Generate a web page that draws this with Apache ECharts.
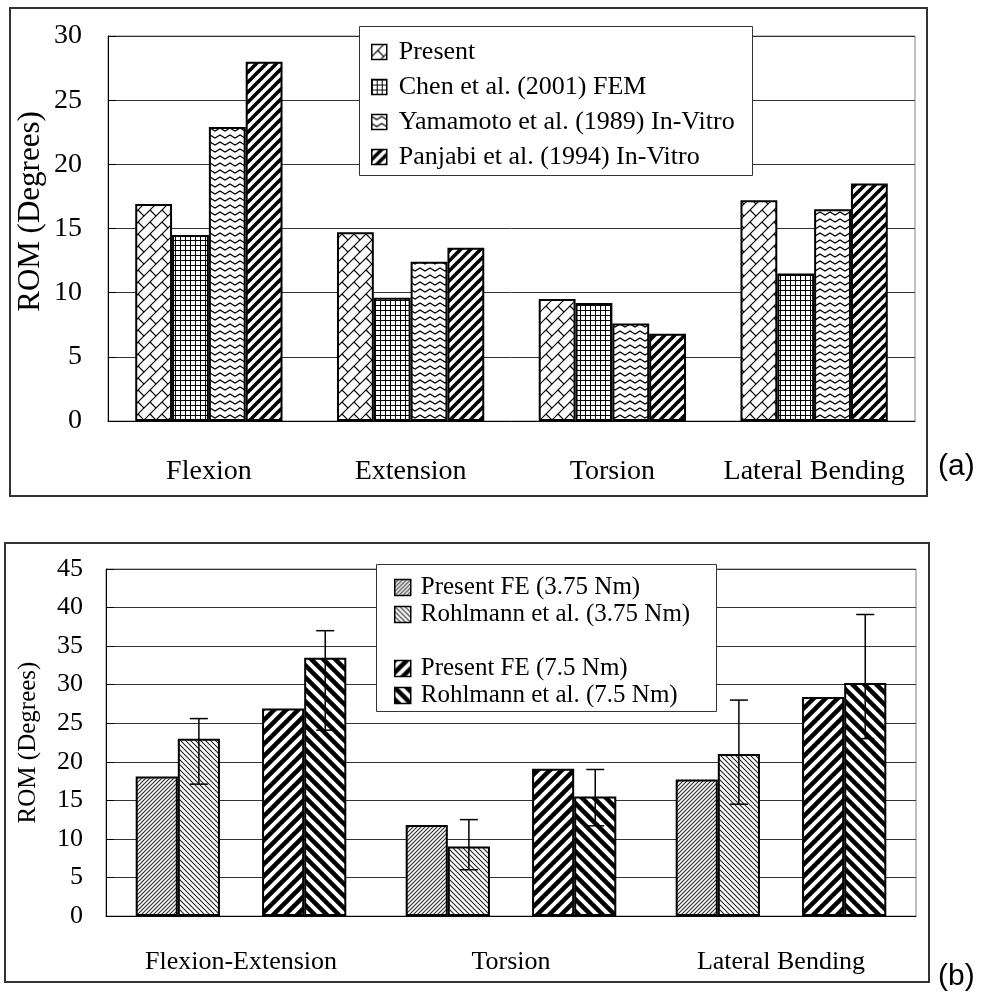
<!DOCTYPE html>
<html><head><meta charset="utf-8">
<script src="https://cdn.jsdelivr.net/npm/echarts@6/dist/echarts.min.js"></script>
<style>html,body{margin:0;padding:0;background:#fff}#main{width:981px;height:998px}</style>
</head><body><div id="main"></div>
<script>
// ---------- Chart (a) data ----------
var categoriesA = ['Flexion', 'Extension', 'Torsion', 'Lateral Bending'];
var seriesNamesA = ['Present', 'Chen et al. (2001) FEM', 'Yamamoto et al. (1989) In-Vitro', 'Panjabi et al. (1994) In-Vitro'];
var presentA  = [16.9, 14.7, 9.5, 17.2];
var chenA     = [14.5, 9.6, 9.2, 11.5];
var yamamotoA = [22.9, 12.4, 7.6, 16.5];
var panjabiA  = [28.0, 13.5, 6.8, 18.5];
var yTicksA = [0, 5, 10, 15, 20, 25, 30];

// ---------- Chart (b) data ----------
var categoriesB = ['Flexion-Extension', 'Torsion', 'Lateral Bending'];
var seriesNamesB = ['Present FE (3.75 Nm)', 'Rohlmann et al. (3.75 Nm)', 'Present FE (7.5 Nm)', 'Rohlmann et al. (7.5 Nm)'];
var presentB375  = [18.1, 11.8, 17.7];
var rohlmannB375 = [23.0, 9.0, 21.0];
var presentB75   = [26.9, 19.1, 28.4];
var rohlmannB75  = [33.5, 15.5, 30.2];
var rohlmannB375Low  = [17.1, 6.0, 14.5];
var rohlmannB375High = [25.6, 12.5, 28.0];
var rohlmannB75Low   = [24.1, 11.7, 23.0];
var rohlmannB75High  = [37.0, 19.0, 39.1];
var yTicksB = [0, 5, 10, 15, 20, 25, 30, 35, 40, 45];

var FONT = 'Liberation Serif';

// ---------- fill patterns ----------
function makeCanvas(w, h) {
  var c = document.createElement('canvas');
  c.width = w; c.height = h;
  var ctx = c.getContext('2d');
  ctx.fillStyle = '#fff';
  ctx.fillRect(0, 0, w, h);
  ctx.strokeStyle = '#000';
  ctx.fillStyle = '#000';
  return [c, ctx];
}
function diagUp(s, lw, col) {
  var r = makeCanvas(s, s), ctx = r[1];
  ctx.lineWidth = lw;
  if (col) ctx.strokeStyle = col;
  for (var k = -1; k <= 1; k++) {
    ctx.beginPath();
    ctx.moveTo(k * s - 2, s + 2);
    ctx.lineTo(k * s + s + 2, -2);
    ctx.stroke();
  }
  return { image: r[0], repeat: 'repeat' };
}
function diagDown(s, lw, col) {
  var r = makeCanvas(s, s), ctx = r[1];
  ctx.lineWidth = lw;
  if (col) ctx.strokeStyle = col;
  for (var k = -1; k <= 1; k++) {
    ctx.beginPath();
    ctx.moveTo(-2, k * s - 2);
    ctx.lineTo(s + 2, k * s + s + 2);
    ctx.stroke();
  }
  return { image: r[0], repeat: 'repeat' };
}
function brick(s) {
  var r = makeCanvas(s, s), ctx = r[1];
  ctx.lineWidth = 1.2;
  for (var k = -1; k <= 1; k++) {
    ctx.beginPath();
    ctx.moveTo(k * s - 2, s + 2);
    ctx.lineTo(k * s + s + 2, -2);
    ctx.stroke();
  }
  ctx.beginPath();
  ctx.moveTo(s / 2, s / 2); ctx.lineTo(s + 1, s + 1);
  ctx.moveTo(-1, -1); ctx.lineTo(0, 0);
  ctx.stroke();
  return { image: r[0], repeat: 'repeat' };
}
function grid(s) {
  var r = makeCanvas(s, s), ctx = r[1];
  ctx.fillRect(0, 0, s, 1);
  ctx.fillRect(0, 0, 1, s);
  return { image: r[0], repeat: 'repeat' };
}
function wave(w, h) {
  var r = makeCanvas(w, h), ctx = r[1];
  ctx.lineWidth = 1.1;
  ctx.beginPath();
  ctx.moveTo(-w / 2, h - 2);
  ctx.lineTo(0, 2);
  ctx.lineTo(w / 2, h - 2);
  ctx.lineTo(w, 2);
  ctx.lineTo(w * 1.5, h - 2);
  ctx.stroke();
  return { image: r[0], repeat: 'repeat' };
}

var patA = [brick(12), grid(5), wave(10, 7), diagUp(10, 3.6)];
var patB = [diagUp(4, 1.2, '#333'), diagDown(5, 1.1, '#222'), diagUp(12, 4.5), diagDown(12, 4.5)];

var chart = echarts.init(document.getElementById('main'), null, { renderer: 'canvas' });

var barStyleBase = { borderColor: '#000', borderWidth: 2 };
function bar(name, data, pattern, gridIdx, gap) {
  return {
    type: 'bar', name: name, data: data,
    xAxisIndex: gridIdx, yAxisIndex: gridIdx,
    barGap: '0%', barCategoryGap: gap,
    itemStyle: Object.assign({ color: pattern }, barStyleBase),
    emphasis: { disabled: true },
    animation: false
  };
}

var nB = 5, gapB = 0.22;
function errSeries(low, high, slot) {
  var d = low.map(function (v, i) { return [i, v, high[i]]; });
  return {
    type: 'custom', xAxisIndex: 1, yAxisIndex: 1, z: 5,
    data: d, encode: { x: 0, y: [1, 2] },
    animation: false,
    renderItem: function (params, api) {
      var c = api.value(0);
      var pLo = api.coord([c, api.value(1)]);
      var pHi = api.coord([c, api.value(2)]);
      var band = api.size([1, 0])[0];
      var bw = band * (1 - gapB) / nB;
      var x = pLo[0] + (slot - (nB - 1) / 2) * bw;
      var cap = 9;
      var st = { stroke: '#000', lineWidth: 1.5 };
      return {
        type: 'group', children: [
          { type: 'line', shape: { x1: x, y1: pHi[1], x2: x, y2: pLo[1] }, style: st },
          { type: 'line', shape: { x1: x - cap, y1: pHi[1], x2: x + cap, y2: pHi[1] }, style: st },
          { type: 'line', shape: { x1: x - cap, y1: pLo[1], x2: x + cap, y2: pLo[1] }, style: st }
        ]
      };
    }
  };
}

var legendCommon = {
  orient: 'vertical', padding: 0, icon: 'rect', selectedMode: false,
  itemStyle: { borderColor: '#000', borderWidth: 1.5 }
};

var option = {
  backgroundColor: '#fff',
  animation: false,
  grid: [
    { left: 108, top: 36, width: 807, height: 385, show: true, borderColor: '#808080', borderWidth: 1 },
    { left: 106, top: 569, width: 810, height: 347, show: true, borderColor: '#808080', borderWidth: 1 }
  ],
  xAxis: [
    {
      type: 'category', gridIndex: 0, data: categoriesA,
      axisLine: { lineStyle: { color: '#000', width: 1 } },
      axisTick: { inside: true, length: 10, lineStyle: { color: '#000' } },
      axisLabel: { interval: 0, fontFamily: FONT, fontSize: 28, color: '#000', margin: 37 }
    },
    {
      type: 'category', gridIndex: 1, data: categoriesB,
      axisLine: { lineStyle: { color: '#000', width: 1 } },
      axisTick: { inside: true, length: 10, lineStyle: { color: '#000' } },
      axisLabel: { interval: 0, fontFamily: FONT, fontSize: 26, color: '#000', margin: 33 }
    }
  ],
  yAxis: [
    {
      type: 'value', gridIndex: 0,
      min: yTicksA[0], max: yTicksA[yTicksA.length - 1], interval: yTicksA[1] - yTicksA[0],
      axisLine: { show: true, lineStyle: { color: '#000' } },
      axisTick: { show: true, inside: true, length: 8, lineStyle: { color: '#000' } },
      splitLine: { lineStyle: { color: '#333', width: 1 } },
      axisLabel: { fontFamily: FONT, fontSize: 28, color: '#000', margin: 26 },
      name: 'ROM (Degrees)', nameLocation: 'middle', nameGap: 62, nameMoveOverlap: false,
      nameTextStyle: { fontFamily: FONT, fontSize: 31, color: '#000', padding: [0, 0, 0, 34] }
    },
    {
      type: 'value', gridIndex: 1,
      min: yTicksB[0], max: yTicksB[yTicksB.length - 1], interval: yTicksB[1] - yTicksB[0],
      axisLine: { show: true, lineStyle: { color: '#000' } },
      axisTick: { show: true, inside: true, length: 8, lineStyle: { color: '#000' } },
      splitLine: { lineStyle: { color: '#333', width: 1 } },
      axisLabel: { fontFamily: FONT, fontSize: 26, color: '#000', margin: 23 },
      name: 'ROM (Degrees)', nameLocation: 'middle', nameGap: 65, nameMoveOverlap: false,
      nameTextStyle: { fontFamily: FONT, fontSize: 25, color: '#000' }
    }
  ],
  legend: [
    Object.assign({}, legendCommon, {
      data: seriesNamesA, left: 371, top: 39, itemWidth: 15, itemHeight: 15, itemGap: 9,
      textStyle: { fontFamily: FONT, fontSize: 26, lineHeight: 26, color: '#000', padding: [0, 0, 0, 7] }
    }),
    Object.assign({}, legendCommon, {
      data: seriesNamesB.slice(0, 2), left: 394, top: 575, itemWidth: 16, itemHeight: 16, itemGap: 2,
      textStyle: { fontFamily: FONT, fontSize: 25, lineHeight: 24, color: '#000', padding: [0, 0, 0, 5] }
    }),
    Object.assign({}, legendCommon, {
      data: seriesNamesB.slice(2, 4), left: 394, top: 656, itemWidth: 16, itemHeight: 16, itemGap: 2,
      textStyle: { fontFamily: FONT, fontSize: 25, lineHeight: 24, color: '#000', padding: [0, 0, 0, 5] }
    })
  ],
  graphic: [
    { type: 'rect', z: 3, shape: { x: 10, y: 8, width: 917, height: 488 }, style: { fill: 'none', stroke: '#333', lineWidth: 2 } },
    { type: 'rect', z: 3, shape: { x: 5, y: 543, width: 924, height: 439 }, style: { fill: 'none', stroke: '#333', lineWidth: 2 } },
    { type: 'rect', z: 3, shape: { x: 359.5, y: 26.5, width: 393, height: 149 }, style: { fill: '#fff', stroke: '#333', lineWidth: 1 } },
    { type: 'rect', z: 3, shape: { x: 376.5, y: 564.5, width: 340, height: 147 }, style: { fill: '#fff', stroke: '#333', lineWidth: 1 } },
    { type: 'text', z: 3, left: 938, top: 452, style: { text: '(a)', fontFamily: 'Liberation Sans', fontSize: 30, fill: '#000' } },
    { type: 'text', z: 3, left: 938, top: 962, style: { text: '(b)', fontFamily: 'Liberation Sans', fontSize: 30, fill: '#000' } }
  ],
  series: [
    bar(seriesNamesA[0], presentA, patA[0], 0, '27%'),
    bar(seriesNamesA[1], chenA, patA[1], 0, '27%'),
    bar(seriesNamesA[2], yamamotoA, patA[2], 0, '27%'),
    bar(seriesNamesA[3], panjabiA, patA[3], 0, '27%'),
    bar(seriesNamesB[0], presentB375, patB[0], 1, '22%'),
    bar(seriesNamesB[1], rohlmannB375, patB[1], 1, '22%'),
    bar('spacer', categoriesB.map(function () { return '-'; }), '#fff', 1, '22%'),
    bar(seriesNamesB[2], presentB75, patB[2], 1, '22%'),
    bar(seriesNamesB[3], rohlmannB75, patB[3], 1, '22%'),
    errSeries(rohlmannB375Low, rohlmannB375High, 1),
    errSeries(rohlmannB75Low, rohlmannB75High, 4)
  ]
};
chart.setOption(option);
</script>
</body></html>
